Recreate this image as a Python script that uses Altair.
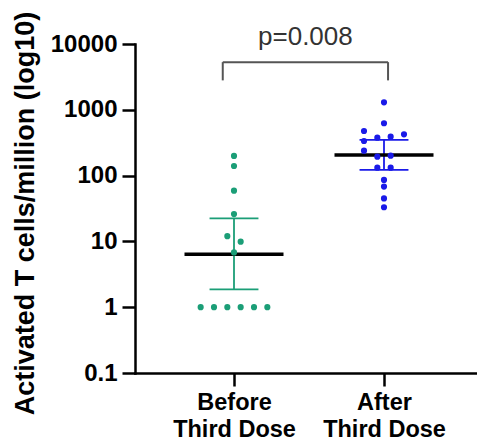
import json
import altair as alt
import pandas as pd

# ---- data ----
groups = ["Before\nThird Dose", "After\nThird Dose"]
colors = ["#1b9e77", "#1a1ae8"]

before_values = [199, 140, 59, 26, 12, 9.9, 6.8, 1, 1, 1, 1, 1, 1]
before_slots = [0, 0, 0, 0, -0.5, 0.5, 0, -2.5, -1.5, -0.5, 0.5, 1.5, 2.5]
after_values = [1300, 624, 476, 336, 377, 390, 424, 239, 194, 201, 132, 132, 86, 68, 45, 33]
after_slots = [0, 0, -1.5, -1.5, -0.5, 0.5, 1.5, -1.5, -0.5, 0.5, -0.5, 0.5, 0, 0, 0, 0]

geo_means = [6.4, 206]
ci_low = [1.87, 122]
ci_high = [22.4, 348]

p_label = "p=0.008"
bracket_top = 5300
bracket_tip = 2800

y_ticks = [0.1, 1, 10, 100, 1000, 10000]
y_title = "Activated T cells/million (log10)"

# ---- tables ----
points = pd.DataFrame({
    "group": [groups[0]] * len(before_values) + [groups[1]] * len(after_values),
    "idx": [1] * len(before_values) + [2] * len(after_values),
    "value": before_values + after_values,
    "slot": before_slots + after_slots,
})
summary = pd.DataFrame({"group": groups, "idx": [1, 2], "mean": geo_means,
                        "lo": ci_low, "hi": ci_high})
bracket = pd.DataFrame({"a": [1], "b": [2], "top": [bracket_top],
                        "tip": [bracket_tip], "label": [p_label]})

label_map = {i + 1: g.split("\n") for i, g in enumerate(groups)}
label_expr = " : ".join(
    f"datum.value == {k} ? {json.dumps(v)}" for k, v in label_map.items()
) + " : ''"

FONT = "Liberation Sans"

xscale = alt.Scale(domain=[0.34, 2.62], nice=False, zero=False)
yscale = alt.Scale(type="log", domain=[0.1, 10000], nice=False)

xaxis = alt.Axis(values=[1, 2], labelExpr=label_expr, title=None,
                 labelFontSize=23.5, labelLineHeight=27, labelPadding=4,
                 labelBaseline="top")
yaxis = alt.Axis(values=y_ticks, format="~g", title=y_title,
                 labelFontSize=24, labelPadding=5,
                 titleFontSize=27, titleFont=FONT, titleFontWeight="bold",
                 titleColor="black", titleX=-102, titleY=169,
                 titleBaseline="alphabetic", titleAngle=270)


def X(field):
    return alt.X(field, type="quantitative", scale=xscale, axis=xaxis)


def Y(field):
    return alt.Y(field, type="quantitative", scale=yscale, axis=yaxis)


color = alt.Color("group:N", scale=alt.Scale(domain=groups, range=colors), legend=None)

base_sum = alt.Chart(summary).transform_calculate(
    cap_l="datum.idx - 0.163", cap_r="datum.idx + 0.163",
    mean_l="datum.idx - 0.33", mean_r="datum.idx + 0.33",
)

err_v = base_sum.mark_rule(strokeWidth=1.8).encode(
    x=X("idx"), y=Y("lo"), y2="hi", color=color)
cap_lo = base_sum.mark_rule(strokeWidth=1.8).encode(
    x=X("cap_l"), x2="cap_r", y=Y("lo"), color=color)
cap_hi = base_sum.mark_rule(strokeWidth=1.8).encode(
    x=X("cap_l"), x2="cap_r", y=Y("hi"), color=color)
mean_line = base_sum.mark_rule(strokeWidth=3.5, color="black").encode(
    x=X("mean_l"), x2="mean_r", y=Y("mean"))

pts = alt.Chart(points).transform_calculate(
    pos="datum.idx + datum.slot * 0.0889"
).mark_circle(size=38, opacity=1).encode(
    x=X("pos"), y=Y("value"), color=color)

base_br = alt.Chart(bracket).transform_calculate(
    xl="datum.a - 0.075", xr="datum.b + 0.027", xm="(datum.a - 0.075 + datum.b + 0.027) / 2"
)
br_h = base_br.mark_rule(strokeWidth=2, color="#555555").encode(
    x=X("xl"), x2="xr", y=Y("top"))
br_l = base_br.mark_rule(strokeWidth=2, color="#555555").encode(
    x=X("xl"), y=Y("tip"), y2="top")
br_r = base_br.mark_rule(strokeWidth=2, color="#555555").encode(
    x=X("xr"), y=Y("tip"), y2="top")
br_t = base_br.mark_text(fontSize=26, font=FONT, color="#333333", dy=-17,
                         baseline="alphabetic", align="center").encode(
    x=X("xm"), y=Y("top"), text="label:N")

chart = alt.layer(err_v, cap_lo, cap_hi, mean_line, pts, br_h, br_l, br_r, br_t).properties(
    width=342, height=329,
    autosize=alt.AutoSizeParams(type="none"),
    padding={"left": 127, "top": 36, "right": 0, "bottom": 68},
    background="white",
).configure_view(stroke=None).configure_axis(
    grid=False, domainColor="black", domainWidth=2.5, domainCap="square",
    tickColor="black", tickWidth=2.5, tickSize=13,
    labelFont=FONT, labelFontWeight="bold", labelColor="black",
)

chart.save("out.html", embed_options={"renderer": "svg", "actions": False})
